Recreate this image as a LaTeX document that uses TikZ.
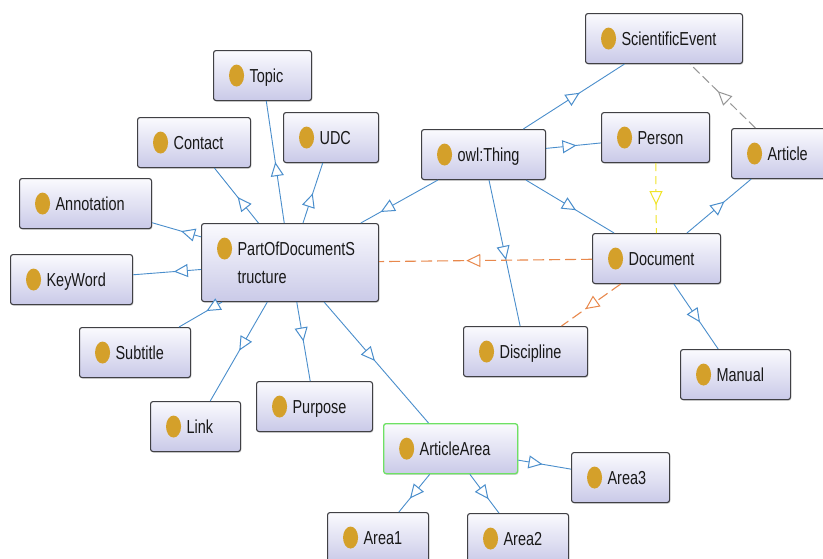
\documentclass[tikz,border=0pt]{standalone}
\usepackage{fontspec}
\setmainfont{Liberation Sans}[FakeStretch=0.77]
\usetikzlibrary{arrows.meta,decorations.markings,shadows}
\definecolor{boxtop}{RGB}{250,250,254}
\definecolor{boxbot}{RGB}{202,202,232}
\definecolor{boxline}{RGB}{64,64,68}
\definecolor{gold}{RGB}{212,160,42}
\definecolor{eblue}{RGB}{74,142,204}
\definecolor{eorange}{RGB}{232,136,76}
\definecolor{eyellow}{RGB}{240,228,40}
\definecolor{egray}{RGB}{150,150,150}
\definecolor{agreen}{RGB}{110,225,100}
\definecolor{txt}{RGB}{25,25,25}
\tikzset{
  cls/.style={draw=boxline, line width=1.1pt, rounded corners=2.5pt,
    top color=boxtop, bottom color=boxbot, minimum height=50pt,
    inner sep=0pt, anchor=north west, text height=13.2pt, text depth=0pt,
    text=txt, font=\fontsize{18.8}{28}\selectfont,
    drop shadow={shadow xshift=0.8pt, shadow yshift=-1.2pt, opacity=0.3},
    path picture={\fill[gold] ([xshift=23pt,yshift=-25pt]path picture bounding box.north west)
      ellipse [x radius=7.5pt, y radius=11pt];}},
  bl/.style={color=eblue, line width=0.9pt},
  orng/.style={color=eorange, line width=1.1pt, dash pattern=on 11pt off 5pt},
  yel/.style={color=eyellow, line width=1pt, dash pattern=on 8pt off 5pt},
  gry/.style={color=egray, line width=1pt, dash pattern=on 9pt off 4pt},
  tri/.style={postaction={decorate, decoration={markings,
    mark=at position 0.5 with {\arrow[xshift=7pt]{Triangle[length=14pt,width=13pt,fill=white,line width=1pt]}}}}}
}
\newcommand\cnode[6][]{\node[cls,#1] (#2) at (#3,#4) {\makebox[#5pt][l]{\hspace*{36pt}#6}};}
\newcommand\conn[3]{\draw[#1] (#2) -- (#3); \path[#1, solid, tri] (#2.center) -- (#3.center);}
\begin{document}
\begin{tikzpicture}[x=1pt,y=-1pt]
\useasboundingbox (0,0) rectangle (823,558);
\fill[white] (0,0) rectangle (823,558);
\clip (0,0) rectangle (823,558);
% nodes
\cnode{topic}{213}{50}{98}{Topic}
\cnode{contact}{137}{117}{113}{Contact}
\cnode{udc}{283}{112}{95}{UDC}
\cnode{annot}{19}{178}{132}{Annotation}
\cnode{keyword}{10}{254}{122}{KeyWord}
\node[cls, minimum height=78pt, text depth=28pt] (pods) at (201,223)
  {\makebox[177pt][l]{\hspace*{36pt}\vtop{\hbox{PartOfDocumentS}\hbox{tructure}}}};
\cnode{subtitle}{79}{327}{111}{Subtitle}
\cnode{link}{150}{401}{90}{Link}
\cnode{purpose}{256}{381}{116}{Purpose}
\cnode[draw=agreen, line width=1.3pt]{aa}{383}{423}{134}{ArticleArea}
\cnode{area1}{327}{512}{101}{Area1}
\cnode{area2}{467}{513}{101}{Area2}
\cnode{area3}{571}{452}{98}{Area3}
\cnode{owl}{421}{129}{124}{owl:Thing}
\cnode{person}{601}{112}{108}{Person}
\cnode{sci}{585}{13}{157}{ScientificEvent}
\cnode{article}{731}{128}{100}{Article}
\cnode{doc}{592}{233}{128}{Document}
\cnode{disc}{463}{326}{124}{Discipline}
\cnode{manual}{680}{349}{110}{Manual}
% connectors
\conn{bl}{owl}{pods}
\conn{bl}{owl}{sci}
\conn{bl}{owl}{person}
\conn{bl}{owl}{doc}
\conn{bl}{owl}{disc}
\conn{bl}{doc}{article}
\conn{bl}{doc}{manual}
\conn{gry}{article}{sci}
\conn{yel}{person}{doc}
\conn{orng}{doc}{pods}
\conn{orng}{doc}{disc}
\conn{bl}{pods}{topic}
\conn{bl}{pods}{contact}
\conn{bl}{pods}{udc}
\conn{bl}{pods}{annot}
\conn{bl}{pods}{keyword}
\conn{bl}{pods}{subtitle}
\conn{bl}{pods}{link}
\conn{bl}{pods}{purpose}
\conn{bl}{pods}{aa}
\conn{bl}{aa}{area1}
\conn{bl}{aa}{area2}
\conn{bl}{aa}{area3}
\end{tikzpicture}
\end{document}
